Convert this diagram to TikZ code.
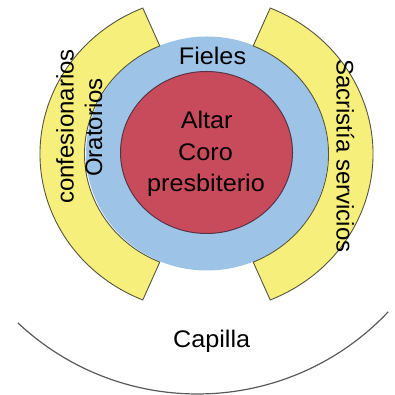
\documentclass[tikz,border=0pt]{standalone}
\usepackage{fontspec}
\usepackage{graphicx}
\setmainfont{Liberation Sans}
\definecolor{ylw}{HTML}{F6EF7C}
\definecolor{ylwline}{HTML}{555540}
\definecolor{blu}{HTML}{9DC3E6}
\definecolor{rd}{HTML}{C84B5B}
\definecolor{rdline}{HTML}{5A3446}
\definecolor{capline}{HTML}{5A5A5A}
\newcommand\hstr[1]{\scalebox{1.05}[1]{#1}}
\tikzset{
  txt/.style={font=\fontsize{24}{24}\selectfont, inner sep=0pt, text=black},
  band/.style={fill=ylw, draw=ylwline, line width=0.9pt, line join=miter},
}
\begin{document}
\begin{tikzpicture}[x=1pt,y=1pt]
\useasboundingbox (0,0) rectangle (395,395);
% Capilla arc
\begin{scope}[shift={(197.5,263.4)}]
\draw[capline, line width=1.2pt] (226.8:262.4) arc[start angle=226.8, end angle=316.6, radius=262.4];
\end{scope}
% blue ring
\begin{scope}[shift={(207,241.5)}]
\fill[blu] (0,0) ellipse[x radius=121, y radius=117];
\end{scope}
% yellow bands
\begin{scope}[shift={(206.5,241)}]
\draw[band] (112.5:166.5 and 158) arc[start angle=112.5, end angle=247.5, x radius=166.5, y radius=158]
  -- (247.5:122 and 117) arc[start angle=247.5, end angle=112.5, x radius=122, y radius=117] -- cycle;
\draw[band] (-67.5:166.5 and 158) arc[start angle=-67.5, end angle=67.5, x radius=166.5, y radius=158]
  -- (67.5:122 and 117) arc[start angle=67.5, end angle=-67.5, x radius=122, y radius=117] -- cycle;
\end{scope}
% red core
\begin{scope}[shift={(206.5,242.5)}]
\draw[fill=rd, draw=rdline, line width=1pt] (0,0) ellipse[x radius=86, y radius=81];
\end{scope}
% texts
\node[txt, anchor=base] (fieles) at (212.5,330.7) {\hstr{Fieles}};
\node[txt, anchor=base] (altar) at (206.7,266.7) {\hstr{Altar}};
\node[txt, anchor=base] (coro) at (205.5,234.5) {\hstr{Coro}};
\node[txt, anchor=base] (presb) at (206,203.3) {\hstr{presbiterio}};
\node[txt, anchor=base] (capilla) at (211.7,47.3) {\hstr{Capilla}};
\node[txt, anchor=base, rotate=90] (conf) at (73.5,268.5) {confesionarios};
\node[txt, anchor=base, rotate=90] (orat) at (102,267.5) {Oratorios};
\node[txt, anchor=base, rotate=-90] (sacr) at (336.5,239) {Sacristía servicios};
\end{tikzpicture}
\end{document}
